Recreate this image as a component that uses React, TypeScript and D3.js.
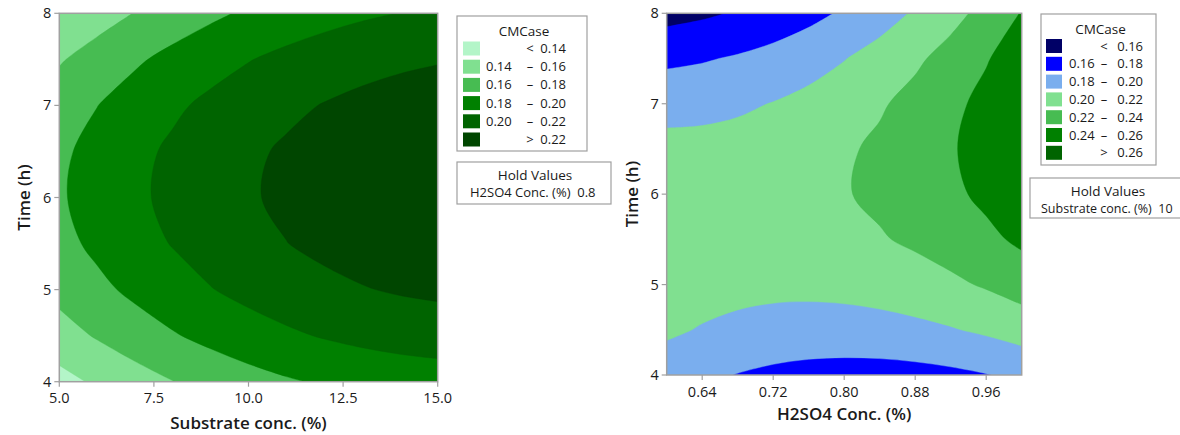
import React from "react";
import * as d3 from "d3";

// Time (h) is the vertical axis of both panels
const gridTimes = [4, 4.5, 5, 5.5, 6, 6.5, 7, 7.5, 8];
const timeTicks = [4, 5, 6, 7, 8];

// Left panel: CMCase vs Substrate conc. (%) and Time, H2SO4 held at 0.8
const substrateGrid = [5, 6, 7, 8, 9, 10, 11, 12, 13, 14, 15];
const substrateTicks = [5, 7.5, 10, 12.5, 15];
// one row per grid time (4 .. 8), one value per substrate column
const substrateCMCase = [
  [0.1334, 0.143, 0.1517, 0.1596, 0.1665, 0.1727, 0.1779, 0.1823, 0.1859, 0.1886, 0.1904],
  [0.1521, 0.1617, 0.1705, 0.1784, 0.1854, 0.1916, 0.1969, 0.2014, 0.205, 0.2077, 0.2096],
  [0.1658, 0.1754, 0.1842, 0.1922, 0.1993, 0.2055, 0.2109, 0.2154, 0.219, 0.2218, 0.2237],
  [0.1743, 0.1841, 0.1929, 0.2009, 0.208, 0.2143, 0.2197, 0.2243, 0.228, 0.2308, 0.2328],
  [0.1779, 0.1876, 0.1965, 0.2046, 0.2118, 0.2181, 0.2236, 0.2282, 0.2319, 0.2348, 0.2368],
  [0.1764, 0.1862, 0.1951, 0.2032, 0.2105, 0.2168, 0.2224, 0.227, 0.2308, 0.2338, 0.2358],
  [0.1698, 0.1797, 0.1887, 0.1968, 0.2041, 0.2105, 0.2161, 0.2208, 0.2247, 0.2277, 0.2298],
  [0.1582, 0.1681, 0.1772, 0.1854, 0.1927, 0.1992, 0.2048, 0.2096, 0.2135, 0.2165, 0.2187],
  [0.1415, 0.1515, 0.1606, 0.1688, 0.1762, 0.1828, 0.1884, 0.1932, 0.1972, 0.2003, 0.2025],
];
const substrateLevels = [0.14, 0.16, 0.18, 0.2, 0.22];
const substrateColors = ["#b3f5c8", "#80e090", "#47bc52", "#008000", "#006400", "#004600"];

// Right panel: CMCase vs H2SO4 Conc. (%) and Time, substrate held at 10
const acidGrid = [0.6, 0.64, 0.68, 0.72, 0.76, 0.8, 0.84, 0.88, 0.92, 0.96, 1.0];
const acidTicks = [0.64, 0.72, 0.8, 0.88, 0.96];
const acidCMCase = [
  [0.1897, 0.184, 0.1794, 0.176, 0.1737, 0.1726, 0.1726, 0.1737, 0.1759, 0.1793, 0.1838],
  [0.2032, 0.1987, 0.1953, 0.193, 0.1919, 0.1919, 0.193, 0.1953, 0.1987, 0.2032, 0.2089],
  [0.2116, 0.2082, 0.206, 0.2049, 0.2049, 0.206, 0.2083, 0.2118, 0.2163, 0.222, 0.2288],
  [0.2148, 0.2126, 0.2115, 0.2115, 0.2127, 0.215, 0.2185, 0.2231, 0.2288, 0.2356, 0.2436],
  [0.2128, 0.2118, 0.2118, 0.213, 0.2154, 0.2189, 0.2235, 0.2292, 0.2361, 0.2441, 0.2532],
  [0.2057, 0.2058, 0.207, 0.2094, 0.2129, 0.2175, 0.2233, 0.2302, 0.2382, 0.2474, 0.2577],
  [0.1934, 0.1946, 0.197, 0.2006, 0.2052, 0.211, 0.2179, 0.226, 0.2352, 0.2455, 0.2569],
  [0.1759, 0.1783, 0.1819, 0.1866, 0.1924, 0.1993, 0.2074, 0.2166, 0.227, 0.2385, 0.2511],
  [0.1533, 0.1569, 0.1616, 0.1674, 0.1744, 0.1825, 0.1917, 0.2021, 0.2136, 0.2262, 0.241],
];
const acidLevels = [0.16, 0.18, 0.2, 0.22, 0.24, 0.26];
const acidColors = ["#000066", "#0000ff", "#7aaeee", "#80e090", "#47bc52", "#008000", "#006400"];

const FONT = "'Open Sans', 'Noto Sans', sans-serif";
const FRAME = "#a0a0a0";
const INK = "#1a1a1a";

function legendRows(levels: number[]) {
  const f = (v: number) => v.toFixed(2);
  const rows = [{ lo: "", mid: "<", hi: f(levels[0]) }];
  for (let i = 0; i < levels.length - 1; i++) {
    rows.push({ lo: f(levels[i]), mid: "–", hi: f(levels[i + 1]) });
  }
  rows.push({ lo: "", mid: ">", hi: f(levels[levels.length - 1]) });
  return rows;
}

// contour ring -> svg path; straight along the frame, Catmull-Rom through the inner crossings
function ringPath(ring: number[][], nx: number, ny: number, toPx: (p: number[]) => number[]) {
  const lo = 0.5, hx = nx - 0.5, hy = ny - 0.5, eps = 1e-9;
  const pts = ring.slice(0, -1).map(([a, b]) => [Math.min(Math.max(a, lo), hx), Math.min(Math.max(b, lo), hy)]);
  const edge = pts.map(([a, b]) => a <= lo + eps || a >= hx - eps || b <= lo + eps || b >= hy - eps);
  const px = pts.map(toPx);
  const n = px.length;
  const start = edge.indexOf(true);
  if (start < 0) return (d3.line().curve(d3.curveCatmullRomClosed.alpha(0.5))(px as any) || "") + "Z";
  let d = `M${px[start][0]},${px[start][1]}`;
  let i = 0;
  while (i < n) {
    const b = (start + i + 1) % n;
    if (edge[b]) {
      d += `L${px[b][0]},${px[b][1]}`;
      i++;
      continue;
    }
    const run = [px[(start + i) % n]];
    let k = i + 1;
    while (!edge[(start + k) % n]) {
      run.push(px[(start + k) % n]);
      k++;
    }
    run.push(px[(start + k) % n]);
    const seg = d3.line().curve(d3.curveCatmullRom.alpha(0.5))(run as any) || "";
    d += seg.replace(/^M[^A-Za-z]*/, "");
    i = k;
  }
  return d + "Z";
}

function ContourPanel(props: any) {
  const { id, box, xDomain, xGrid, xTicks, xFormat, xTitle, grid, levels, colors, tickY, titleY } = props;
  const x = d3.scaleLinear().domain(xDomain).range([box.x0, box.x1]);
  const y = d3.scaleLinear().domain([4, 8]).range([box.y1, box.y0]);

  const nx = xGrid.length;
  const ny = gridTimes.length;
  const dx = xGrid[1] - xGrid[0];
  const dt = gridTimes[1] - gridTimes[0];
  const toPx = (p: number[]) => [x(xGrid[0] + (p[0] - 0.5) * dx), y(gridTimes[0] + (p[1] - 0.5) * dt)];
  const bands = d3.contours().size([nx, ny]).thresholds(levels)(grid.flat());
  const paths = bands.map((b: any) =>
    b.coordinates.map((poly: number[][][]) => poly.map((ring) => ringPath(ring, nx, ny, toPx)).join("")).join("")
  );

  return (
    <g>
      <defs>
        <clipPath id={id}>
          <rect x={box.x0} y={box.y0} width={box.x1 - box.x0} height={box.y1 - box.y0} />
        </clipPath>
      </defs>
      <g clipPath={`url(#${id})`}>
        <rect x={box.x0} y={box.y0} width={box.x1 - box.x0} height={box.y1 - box.y0} fill={colors[0]} />
        {paths.map((d: string, i: number) => (
          <path key={i} d={d} fill={colors[i + 1]} stroke={colors[i + 1]} strokeWidth={0.4} fillRule="evenodd" />
        ))}
      </g>
      <rect x={box.x0} y={box.y0} width={box.x1 - box.x0} height={box.y1 - box.y0} fill="none" stroke={FRAME} strokeWidth={1.5} />

      {/* y axis */}
      {timeTicks.map((t) => (
        <g key={t}>
          <line x1={box.x0 - 5} x2={box.x0} y1={y(t)} y2={y(t)} stroke={FRAME} strokeWidth={1.2} />
          <text x={box.x0 - 8} y={y(t)} dy="0.35em" textAnchor="end" fontSize={14.5} fontFamily={FONT} fill={INK}>
            {t}
          </text>
        </g>
      ))}
      <text
        transform={`translate(${box.x0 - 35},${(box.y0 + box.y1) / 2}) rotate(-90)`}
        dy="0.35em"
        textAnchor="middle"
        fontSize={17}
        fontWeight={600}
        fontFamily={FONT}
        fill={INK}
      >
        Time (h)
      </text>

      {/* x axis */}
      {xTicks.map((v: number) => (
        <g key={v}>
          <line x1={x(v)} x2={x(v)} y1={box.y1} y2={box.y1 + 5} stroke={FRAME} strokeWidth={1.2} />
          <text x={x(v)} y={tickY} textAnchor="middle" fontSize={14.5} fontFamily={FONT} fill={INK}>
            {xFormat(v)}
          </text>
        </g>
      ))}
      <text x={(box.x0 + box.x1) / 2} y={titleY} textAnchor="middle" fontSize={17} fontWeight={600} fontFamily={FONT} fill={INK}>
        {xTitle}
      </text>
    </g>
  );
}

function Legend(props: any) {
  const { box, levels, colors, sw, rowTop, pitch, loX, midX, hiX, hold } = props;
  const rows = legendRows(levels);
  return (
    <g fontFamily={FONT} fill={INK}>
      <rect x={box.x0} y={box.y0} width={box.x1 - box.x0} height={box.y1 - box.y0} fill="#fff" stroke={FRAME} strokeWidth={1.2} />
      <text x={(box.x0 + box.x1) / 2 + 2} y={box.y0 + 20} textAnchor="middle" fontSize={13.5}>
        CMCase
      </text>
      {rows.map((r, i) => {
        const top = rowTop + i * pitch;
        return (
          <g key={i}>
            <rect x={sw.x} y={top} width={sw.w} height={sw.h} fill={colors[i]} />
            <text x={loX} y={top + sw.h / 2} dy="0.35em" fontSize={13}>
              {r.lo}
            </text>
            <text x={midX} y={top + sw.h / 2} dy="0.35em" textAnchor="middle" fontSize={13}>
              {r.mid}
            </text>
            <text x={hiX} y={top + sw.h / 2} dy="0.35em" textAnchor="end" fontSize={13}>
              {r.hi}
            </text>
          </g>
        );
      })}
      <rect x={hold.x0} y={hold.y0} width={hold.x1 - hold.x0} height={hold.y1 - hold.y0} fill="#fff" stroke={FRAME} strokeWidth={1.2} />
      <text x={hold.cx} y={hold.y0 + 18} textAnchor="middle" fontSize={13.5}>
        Hold Values
      </text>
      <text x={hold.tx} y={hold.y0 + 35} fontSize={hold.fs}>
        {hold.label}
      </text>
    </g>
  );
}

export default function App() {
  return (
    <svg width={1180} height={435} style={{ position: "absolute", left: 0, top: 0, background: "#fff" }}>
      <ContourPanel
        id="clipLeft"
        box={{ x0: 59.3, x1: 437.7, y0: 13.3, y1: 381.7 }}
        xDomain={[5, 15]}
        xGrid={substrateGrid}
        xTicks={substrateTicks}
        xFormat={(v: number) => v.toFixed(1)}
        xTitle="Substrate conc. (%)"
        grid={substrateCMCase}
        levels={substrateLevels}
        colors={substrateColors}
        tickY={403}
        titleY={429}
      />
      <Legend
        box={{ x0: 457, x1: 587, y0: 16, y1: 151 }}
        levels={substrateLevels}
        colors={substrateColors}
        sw={{ x: 463, w: 17, h: 14 }}
        rowTop={41.5}
        pitch={18.2}
        loX={486}
        midX={530}
        hiX={566}
        hold={{ x0: 457, x1: 611, y0: 162, y1: 204, cx: 535, tx: 470, fs: 13, label: "H2SO4 Conc. (%)\u00a0 0.8" }}
      />
      <ContourPanel
        id="clipRight"
        box={{ x0: 666.7, x1: 1021.7, y0: 13.3, y1: 375 }}
        xDomain={[0.6, 1.0]}
        xGrid={acidGrid}
        xTicks={acidTicks}
        xFormat={(v: number) => v.toFixed(2)}
        xTitle="H2SO4 Conc. (%)"
        grid={acidCMCase}
        levels={acidLevels}
        colors={acidColors}
        tickY={397}
        titleY={420}
      />
      <Legend
        box={{ x0: 1041, x1: 1156, y0: 14, y1: 165 }}
        levels={acidLevels}
        colors={acidColors}
        sw={{ x: 1046, w: 16, h: 14 }}
        rowTop={39}
        pitch={17.8}
        loX={1069}
        midX={1104}
        hiX={1143}
        hold={{ x0: 1030, x1: 1186, y0: 178, y1: 218, cx: 1108, tx: 1041, fs: 12.5, label: "Substrate conc. (%)\u00a0 10" }}
      />
    </svg>
  );
}
